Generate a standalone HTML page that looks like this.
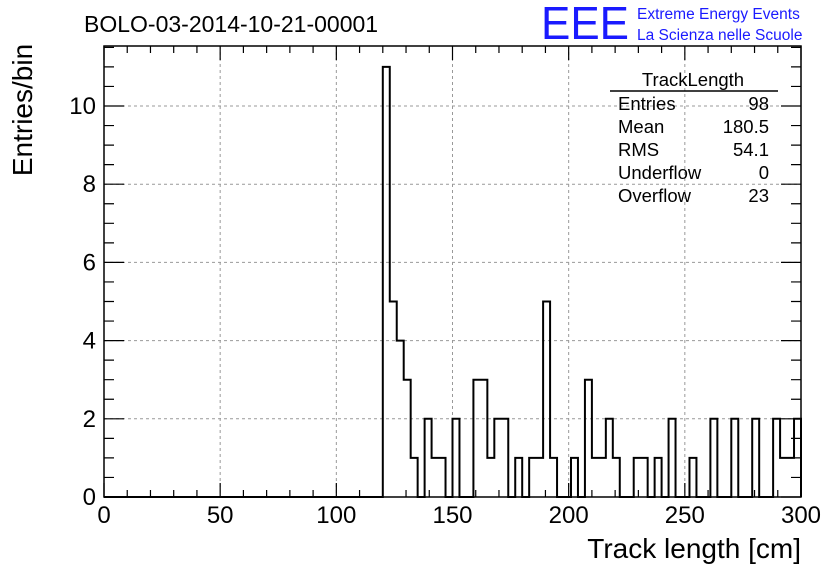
<!DOCTYPE html>
<html><head><meta charset="utf-8"><style>
html,body{margin:0;padding:0;background:#fff;}
svg{display:block;font-family:"Liberation Sans",sans-serif;}
</style></head><body>
<svg id="c" width="836" height="572" viewBox="0 0 836 572">
<rect width="836" height="572" fill="#fff"/>
<text x="84" y="32" font-size="23">BOLO-03-2014-10-21-00001</text>
<text x="541" y="39" font-size="46" fill="#1a1aff" textLength="88" lengthAdjust="spacingAndGlyphs">EEE</text>
<text x="637" y="19" font-size="15.5" fill="#1a1aff">Extreme Energy Events</text>
<text x="637" y="40" font-size="15.5" fill="#1a1aff">La Scienza nelle Scuole</text>
<g id="grid"></g><g id="axes"></g><g id="hist"></g>
<g font-size="18.5">
<text x="693" y="86" text-anchor="middle">TrackLength</text>
<line x1="610" y1="91" x2="778" y2="91" stroke="#000" stroke-width="1.5"/>
<text x="618" y="110">Entries</text><text x="769" y="110" text-anchor="end">98</text>
<text x="618" y="133">Mean</text><text x="769" y="133" text-anchor="end">180.5</text>
<text x="618" y="156">RMS</text><text x="769" y="156" text-anchor="end">54.1</text>
<text x="618" y="179">Underflow</text><text x="769" y="179" text-anchor="end">0</text>
<text x="618" y="202">Overflow</text><text x="769" y="202" text-anchor="end">23</text>
</g>
<text x="801" y="558" font-size="28" text-anchor="end">Track length [cm]</text>
<text transform="translate(32,110) rotate(-90)" font-size="28" text-anchor="middle">Entries/bin</text>
</svg>
<script>
const counts = [0,0,0,0,0,0,0,0,0,0, 0,0,0,0,0,0,0,0,0,0, 0,0,0,0,0,0,0,0,0,0, 0,0,0,0,0,0,0,0,0,0,
 11,5,4,3,1,0,2,1,1,0, 2,0,0,3,3,1,2,2,0,1, 0,1,1,5,1,0,0,1,0,3, 1,1,2,1,0,0,1,1,0,1,
 0,2,0,0,1,0,0,2,0,0, 2,0,0,2,0,0,2,1,1,2];
const xTicks = [0,50,100,150,200,250,300];
const yTicks = [0,2,4,6,8,10];
const binWidth = 3;
const X0=104,X1=801,Y0=497,Y1=46,XMAX=300,YMAX=(497-46)/39.1;
const sx=v=>X0+(v/XMAX)*(X1-X0), sy=v=>Y0-(v/YMAX)*(Y0-Y1);
const NS="http://www.w3.org/2000/svg";
function mk(t,a,p){const e=document.createElementNS(NS,t);for(const k in a)e.setAttribute(k,a[k]);p.appendChild(e);return e;}
const grid=document.getElementById('grid'),axes=document.getElementById('axes'),hist=document.getElementById('hist');
xTicks.forEach(v=>{if(v>0&&v<XMAX){const l=mk('line',{x1:sx(v),x2:sx(v),y1:Y1,y2:Y0,stroke:'#999','stroke-dasharray':'3,3','stroke-width':1},grid);

}
const t=mk('text',{x:sx(v),y:523,'font-size':24,'text-anchor':'middle'},axes);t.textContent=v;

});
yTicks.forEach(v=>{if(v>0){const l=mk('line',{x1:X0,x2:X1,y1:sy(v),y2:sy(v),stroke:'#999','stroke-dasharray':'3,3','stroke-width':1},grid);

}
const t=mk('text',{x:96,y:sy(v)+8,'font-size':24,'text-anchor':'end'},axes);t.textContent=v;

});
let tk='';
for(let v=0;v<=XMAX;v+=10){const L=(v%50===0)?14:7;const x=sx(v);tk+=`M${x},${Y0}v${-L}M${x},${Y1}v${L}`;}
for(let v=0;v<=YMAX;v+=0.5){const L=(v%2===0)?20:10;const y=sy(v);tk+=`M${X0},${y}h${L}M${X1},${y}h${-L}`;}
const tp=mk('path',{d:tk,stroke:'#000','stroke-width':1.2,fill:'none'},axes);


const fr=mk('rect',{x:X0,y:Y1,width:X1-X0,height:Y0-Y1,fill:'none',stroke:'#000','stroke-width':1.5},axes);


let d=`M${sx(0)},${sy(0)}`;
counts.forEach((c,i)=>{d+=`L${sx(i*binWidth)},${sy(c)}L${sx((i+1)*binWidth)},${sy(c)}`;});
d+=`L${sx(counts.length*binWidth)},${sy(0)}`;
const h=mk('path',{d:d,stroke:'#000','stroke-width':2,fill:'none'},hist);


</script>
</body></html>
